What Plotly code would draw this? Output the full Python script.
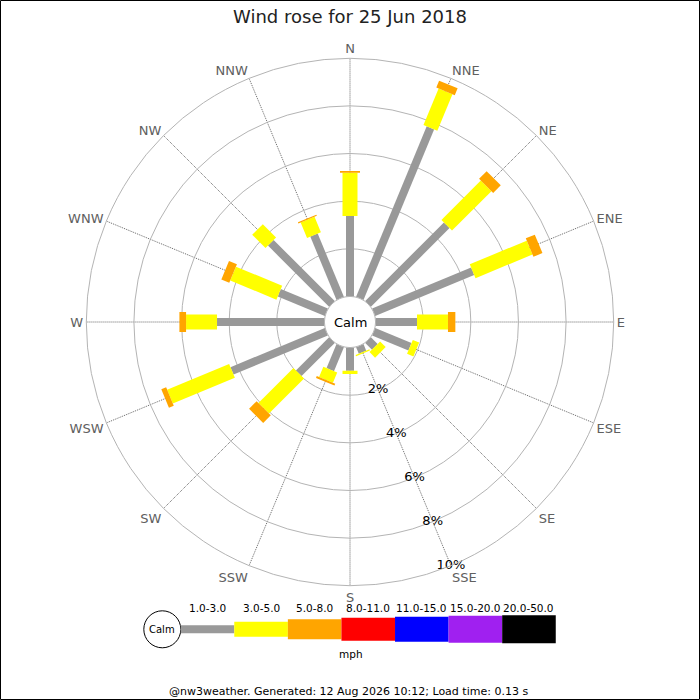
import plotly.graph_objects as go

# ---------------- data ----------------
directions = ["N", "NNE", "NE", "ENE", "E", "ESE", "SE", "SSE",
              "S", "SSW", "SW", "WSW", "W", "WNW", "NW", "NNW"]
# percentage of time per direction in each speed bin (mph)
speed_1_3 = [3.38, 7.75, 4.67, 4.50, 1.74, 1.65, 0.40, 0.30,
             0.97, 1.09, 1.97, 4.29, 4.51, 2.14, 3.63, 2.88]
speed_3_5 = [1.81, 1.66, 2.34, 2.59, 1.30, 0.29, 0.33, 0.05,
             0.14, 0.47, 2.08, 2.82, 1.30, 2.10, 0.79, 0.70]
speed_5_8 = [0.08, 0.31, 0.45, 0.41, 0.31, 0.00, 0.00, 0.00,
             0.00, 0.08, 0.45, 0.22, 0.28, 0.36, 0.00, 0.05]
bin_labels = ["1.0-3.0", "3.0-5.0", "5.0-8.0", "8.0-11.0",
              "11.0-15.0", "15.0-20.0", "20.0-50.0"]
radial_ticks = [2, 4, 6, 8, 10]
radial_tick_labels = ["2%", "4%", "6%", "8%", "10%"]
title_text = "Wind rose for 25 Jun 2018"
footer_text = "@nw3weather. Generated: 12 Aug 2026 10:12; Load time: 0.13 s"
unit_text = "mph"
calm_text = "Calm"

# ---------------- styles ----------------
bin_colors = ["#999999", "#ffff00", "#ffa500", "#ff0000", "#0000ff", "#a020f0", "#000000"]
bar_px = [8, 15, 20, 23, 25, 27, 28]
FONT = "DejaVu Sans"
W = H = 700
cx, cy, R = 350.0, 322.0, 263.7

fig = go.Figure()

series = [speed_1_3, speed_3_5, speed_5_8]
cum = [0.0] * len(directions)
for k, vals in enumerate(series):
    r, th = [], []
    for i, d in enumerate(directions):
        if vals[i] > 0:
            r += [cum[i], cum[i] + vals[i], None]
            th += [d, d, None]
        cum[i] += vals[i]
    fig.add_trace(go.Scatterpolar(
        r=r, theta=th, mode="lines",
        line=dict(color=bin_colors[k], width=bar_px[k]),
        hoverinfo="skip", showlegend=False, connectgaps=False))

# radial percentage labels along SSE
fig.add_trace(go.Scatterpolar(
    r=radial_ticks, theta=["SSE"] * len(radial_ticks), mode="text",
    text=radial_tick_labels, textposition="middle center",
    textfont=dict(family=FONT, size=13, color="#000000"),
    hoverinfo="skip", showlegend=False))

fig.update_layout(
    width=W, height=H,
    margin=dict(l=0, r=0, t=0, b=0),
    paper_bgcolor="white",
    title=dict(text=title_text, x=0.5, xanchor="center", y=1 - 17 / H, yanchor="middle",
               font=dict(family=FONT, size=18, color="#222222")),
    polar=dict(
        domain=dict(x=[(cx - R) / W, (cx + R) / W],
                    y=[(H - cy - R) / H, (H - cy + R) / H]),
        hole=0.097,
        bgcolor="white",
        radialaxis=dict(range=[0, 10], tickvals=radial_ticks, showticklabels=False,
                        ticks="", showline=False, gridcolor="#b4b4b4", gridwidth=1,
                        angle=-67.5),
        angularaxis=dict(type="category", categoryorder="array", categoryarray=directions,
                         rotation=90, direction="clockwise", showgrid=True,
                         gridcolor="#666666", griddash="1px,1px", gridwidth=1,
                         showline=True, linecolor="#b4b4b4", linewidth=1, ticks="",
                         tickfont=dict(family=FONT, size=13, color="#606060")),
    ),
)

shapes = []
annotations = []

def px(x):
    return x / W

def py(y):
    return 1 - y / H

# Calm label in the centre
annotations.append(dict(x=px(cx), y=py(cy), xref="paper", yref="paper", text=calm_text,
                        showarrow=False, xanchor="center", yanchor="middle",
                        font=dict(family=FONT, size=13, color="#000000")))

# speed key
leg_cy = 629.3
circ_cx, circ_r = 162.3, 18.5
shapes.append(dict(type="circle", xref="paper", yref="paper",
                   x0=px(circ_cx - circ_r), x1=px(circ_cx + circ_r),
                   y0=py(leg_cy + circ_r), y1=py(leg_cy - circ_r),
                   line=dict(color="#000000", width=1), fillcolor="white"))
annotations.append(dict(x=px(circ_cx), y=py(leg_cy), xref="paper", yref="paper", text=calm_text,
                        showarrow=False, xanchor="center", yanchor="middle",
                        font=dict(family=FONT, size=10, color="#000000")))
seg_x0, seg_w = 180.7, 53.58
for k, lab in enumerate(bin_labels):
    x0 = seg_x0 + k * seg_w
    h = bar_px[k]
    shapes.append(dict(type="rect", xref="paper", yref="paper",
                       x0=px(x0), x1=px(x0 + seg_w),
                       y0=py(leg_cy + h / 2), y1=py(leg_cy - h / 2),
                       line=dict(width=0), fillcolor=bin_colors[k], layer="above"))
    annotations.append(dict(x=px(x0 + seg_w / 2), y=py(607.5), xref="paper", yref="paper",
                            text=lab, showarrow=False, xanchor="center", yanchor="middle",
                            font=dict(family=FONT, size=10.5, color="#000000")))
annotations.append(dict(x=px(351), y=py(653.5), xref="paper", yref="paper", text=unit_text,
                        showarrow=False, xanchor="center", yanchor="middle",
                        font=dict(family=FONT, size=10.5, color="#000000")))
annotations.append(dict(x=px(348), y=py(691.5), xref="paper", yref="paper", text=footer_text,
                        showarrow=False, xanchor="center", yanchor="middle",
                        font=dict(family=FONT, size=11, color="#000000")))

# outer border
shapes.append(dict(type="rect", xref="paper", yref="paper",
                   x0=px(0.5), x1=px(W - 0.5), y0=py(H - 0.5), y1=py(0.5),
                   line=dict(color="#000000", width=1), fillcolor="rgba(0,0,0,0)"))

fig.update_layout(shapes=shapes, annotations=annotations)
fig.write_html("out.html", config={"displayModeBar": False},
               post_script="document.body.style.margin='0';document.body.style.overflow='hidden';")
